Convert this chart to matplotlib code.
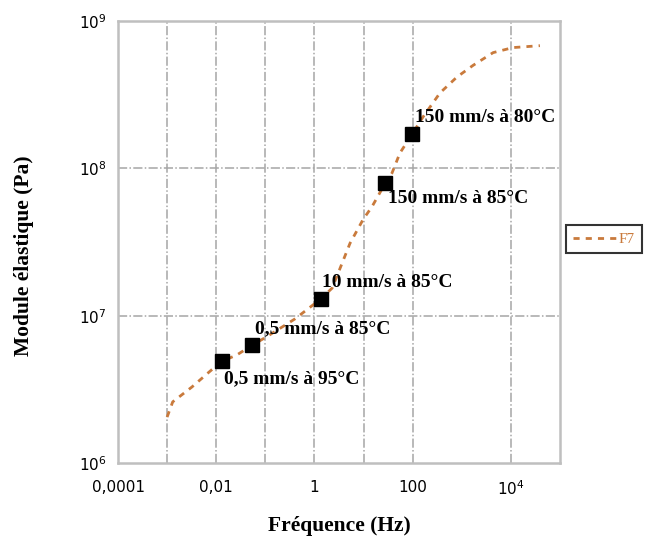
import numpy as np
import matplotlib
matplotlib.use("Agg")
import matplotlib.pyplot as plt
from matplotlib.ticker import FixedLocator, FixedFormatter, NullLocator

# fitted curve F7 (frequency Hz, modulus Pa)
curve_f = [0.001, 0.0013, 0.0032, 0.0075, 0.013, 0.026, 0.054, 0.107, 0.40,
           1.35, 2.3, 5.3, 9.8, 14.9, 27.5, 38, 55, 97, 162, 360, 800,
           1700, 4350, 11000, 39000]
curve_e = [2.05e6, 2.6e6, 3.28e6, 4.2e6, 4.9e6, 5.4e6, 6.3e6, 7.2e6, 9.5e6,
           1.3e7, 1.54e7, 3.1e7, 4.5e7, 5.5e7, 7.9e7, 9.3e7, 1.27e8, 1.7e8,
           2.23e8, 3.25e8, 4.17e8, 5.0e8, 6.1e8, 6.6e8, 6.8e8]

# measured points
pt_f = [0.013, 0.054, 1.35, 27.5, 97]
pt_e = [4.9e6, 6.3e6, 1.3e7, 7.9e7, 1.7e8]
pt_labels = ["0,5 mm/s à 95°C", "0,5 mm/s à 85°C", "10 mm/s à 85°C",
             "150 mm/s à 85°C", "150 mm/s à 80°C"]
label_offsets = [(2, -17), (3, 16), (1, 16), (3, -15), (3, 17)]

xticks = [1e-4, 1e-2, 1, 100, 1e4]
xticklabels = ["0,0001", "0,01", "1", "100", "$10^4$"]
yticks = [1e6, 1e7, 1e8, 1e9]
yticklabels = ["$10^6$", "$10^7$", "$10^8$", "$10^9$"]
xgrid = [1e-3, 1e-2, 1e-1, 1, 10, 100, 1e4]
ygrid = [1e7, 1e8]

orange = "#c97a3c"
grey = "#bfbfbf"

fig = plt.figure(figsize=(6.47, 5.4), dpi=100)
ax = fig.add_axes([118 / 647, 1 - 463 / 540, 442 / 647, 442 / 540])
ax.set_xscale("log")
ax.set_yscale("log")
ax.set_xlim(1e-4, 1e5)
ax.set_ylim(1e6, 1e9)

for g in xgrid:
    ax.axvline(g, color="#a6a6a6", lw=1.1, ls=(0, (6, 1.5, 1, 1.5)), zorder=1)
for g in ygrid:
    ax.axhline(g, color="#a6a6a6", lw=1.1, ls=(0, (6, 1.5, 1, 1.5)), zorder=1)

line, = ax.plot(curve_f, curve_e, color=orange, lw=2, ls=(0, (2.2, 2.2)),
                zorder=3, label="F7")
ax.plot(pt_f, pt_e, ls="none", marker="s", ms=10.5, color="black", zorder=4)

for f, e, lab, off in zip(pt_f, pt_e, pt_labels, label_offsets):
    ax.annotate(lab, (f, e), xytext=off, textcoords="offset pixels",
                ha="left", va="center", fontsize=14, fontweight="bold",
                family="Liberation Serif", zorder=5)

ax.xaxis.set_major_locator(FixedLocator(xticks))
ax.xaxis.set_major_formatter(FixedFormatter(xticklabels))
ax.xaxis.set_minor_locator(NullLocator())
ax.yaxis.set_major_locator(FixedLocator(yticks))
ax.yaxis.set_major_formatter(FixedFormatter(yticklabels))
ax.yaxis.set_minor_locator(NullLocator())
ax.tick_params(length=0, labelsize=11, pad=12)
ax.tick_params(axis="y", pad=8)

for s in ax.spines.values():
    s.set_color(grey)
    s.set_linewidth(1.8)

ax.set_xlabel("Fréquence (Hz)", fontsize=15.5, fontweight="bold",
              family="Liberation Serif", labelpad=13)
ax.set_ylabel("Module élastique (Pa)", fontsize=15.5, fontweight="bold",
              family="Liberation Serif")
ax.yaxis.set_label_coords(-0.19, 0.47)

leg = fig.legend(handles=[line], loc="center left",
                 bbox_to_anchor=(566 / 647, 1 - 239 / 540),
                 prop={"family": "Liberation Serif", "size": 11},
                 frameon=True, fancybox=False, handlelength=2.9,
                 borderpad=0.45, handletextpad=0.1, borderaxespad=0)
leg.get_frame().set_edgecolor("black")
leg.get_frame().set_linewidth(1.5)
for t in leg.get_texts():
    t.set_color(orange)

fig.savefig("out.png", dpi=100)
